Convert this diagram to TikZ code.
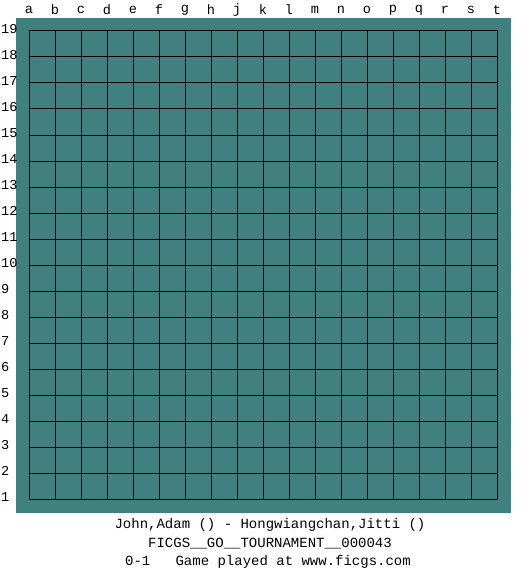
\documentclass[tikz,border=0pt]{standalone}
\usepackage{fontspec}
\setmonofont{Liberation Mono}
\usepackage{xcolor}
\definecolor{boardgreen}{RGB}{64,128,128}

\begin{document}
\begin{tikzpicture}[
  x=1pt, y=-1pt,
  coordlabel/.style={font=\ttfamily\fontsize{13.6}{14}\selectfont, inner sep=0pt},
  caption/.style={font=\ttfamily\fontsize{14}{14}\selectfont, inner sep=0pt},
  gridline/.style={draw=black, line width=1pt, line cap=rect}
]
\useasboundingbox (0,0) rectangle (525,575);
% board
\fill[boardgreen] (16,18) rectangle (511,513);
\foreach \k in {0,...,18} {
  \draw[gridline] ({29+26*\k},31) -- ({29+26*\k},499);
  \draw[gridline] (29,{31+26*\k}) -- (497,{31+26*\k});
}
% column and row labels
\foreach \col [count=\i from 0] in {a,b,c,d,e,f,g,h,j,k,l,m,n,o,p,q,r,s,t}
  \node[coordlabel] (col-\col) at ({29+26*\i},10) {\col};
\foreach \row in {1,...,19}
  \node[coordlabel, anchor=west] (row-\row) at (1,{497-26*(\row-1)}) {\row};
% game info
\node[caption] (players) at (270,525) {John,Adam () - Hongwiangchan,Jitti ()};
\node[caption] (event) at (270,544) {FICGS\_\_GO\_\_TOURNAMENT\_\_000043};
\node[caption] (result) at (268,562) {0-1\ \ \ Game played at www.ficgs.com};
\end{tikzpicture}
\end{document}
